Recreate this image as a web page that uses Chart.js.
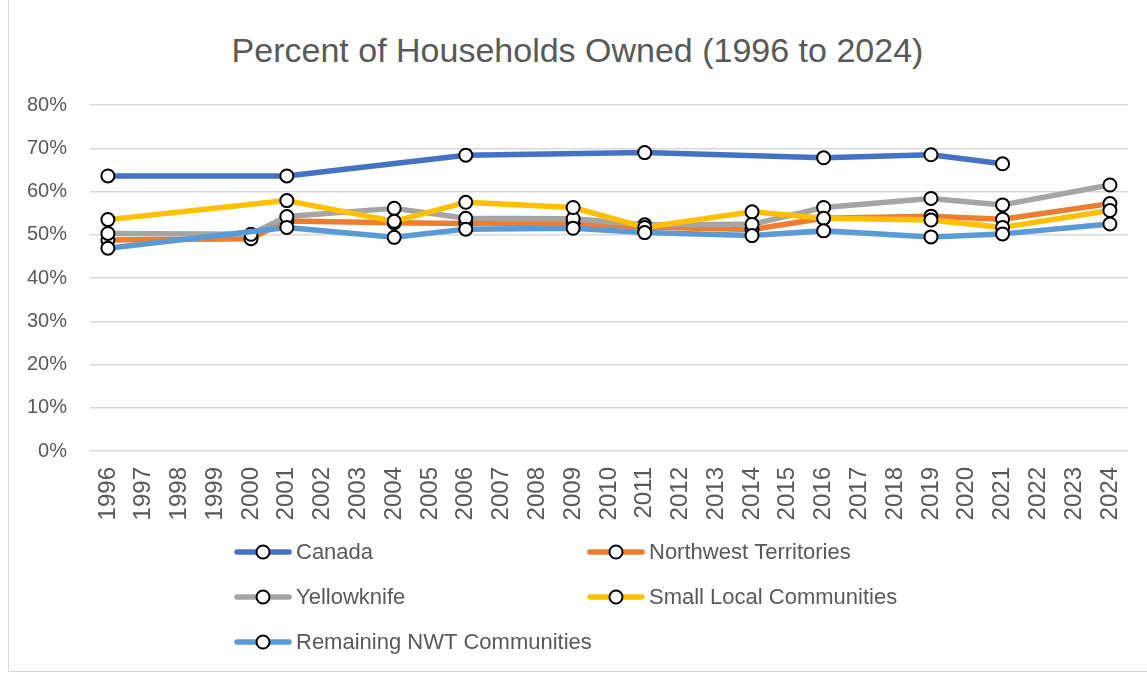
<!DOCTYPE html>
<html>
<head>
<meta charset="utf-8">
<title>Percent of Households Owned (1996 to 2024)</title>
<script src="https://cdn.jsdelivr.net/npm/chart.js@4.4.1/dist/chart.umd.min.js"></script>
<style>
    html, body { margin: 0; padding: 0; background: #fff; }
    #wrap { position: relative; width: 1147px; height: 673px; overflow: hidden; }
    #frame {
        position: absolute; left: 8px; top: 0; width: 1139px; height: 672px;
        border-left: 1px solid #d9d9d9; border-bottom: 1px solid #d9d9d9; box-sizing: border-box;
    }
    #title {
        position: absolute; left: 8px; width: 1139px; top: 31px; line-height: 38px;
        text-align: center; font-size: 34px; font-family: "Liberation Sans", Arial, sans-serif; color: #595959;
    }
    #ownChart { position: absolute; left: 0; top: 0; }
</style>
</head>
<body>
<div id="wrap">
    <div id="frame"></div>
    <div id="title">Percent of Households Owned (1996 to 2024)</div>
    <canvas id="ownChart" width="1147" height="673"></canvas>
</div>
<script>
// Years on the x axis (one category per year)
const years = ['1996', '1997', '1998', '1999', '2000', '2001', '2002', '2003', '2004', '2005',
               '2006', '2007', '2008', '2009', '2010', '2011', '2012', '2013', '2014', '2015',
               '2016', '2017', '2018', '2019', '2020', '2021', '2022', '2023', '2024'];

// Percent owned, null where no survey/census value
//                1996  97    98    99    2000  2001  02    03    2004  05    2006  07    08    2009  10    2011  12    13    2014  15    2016  17    18    2019  20    2021  22    23    2024
const canada    = [63.6, null, null, null, null, 63.6, null, null, null, null, 68.4, null, null, null, null, 69.0, null, null, null, null, 67.8, null, null, 68.5, null, 66.4, null, null, null];
const nwt       = [48.8, null, null, null, 49.1, 53.2, null, null, 52.8, null, 52.6, null, null, 52.6, null, 51.8, null, null, 51.2, null, 53.8, null, null, 54.3, null, 53.6, null, null, 57.2];
const yellowknife = [50.3, null, null, null, 50.1, 54.2, null, null, 56.1, null, 53.8, null, null, 53.7, null, 52.3, null, null, 52.4, null, 56.3, null, null, 58.4, null, 56.9, null, null, 61.5];
const smallLocal  = [53.5, null, null, null, null, 57.9, null, null, 53.1, null, 57.5, null, null, 56.3, null, 51.7, null, null, 55.3, null, 53.8, null, null, 53.4, null, 51.7, null, null, 55.6];
const remaining   = [46.9, null, null, null, null, 51.7, null, null, 49.4, null, 51.3, null, null, 51.5, null, 50.5, null, null, 49.8, null, 50.9, null, null, 49.5, null, 50.2, null, null, 52.5];

const seriesNames  = ['Canada', 'Northwest Territories', 'Yellowknife', 'Small Local Communities', 'Remaining NWT Communities'];
const seriesValues = [canada, nwt, yellowknife, smallLocal, remaining];
const seriesColors = ['#4472C4', '#ED7D31', '#A5A5A5', '#FFC000', '#5B9BD5'];

const yTicks = { min: 0, max: 80, step: 10 };

const FONT = '"Liberation Sans", Arial, sans-serif';
const TEXT = '#595959';

// Two-column legend drawn under the plot, like the Excel one
const gridLegend = {
    id: 'gridLegend',
    afterDraw(chart) {
        const ctx = chart.ctx;
        ctx.save();
        chart.data.datasets.forEach((ds, i) => {
            const x = (i % 2 === 0) ? 235 : 588;
            const y = 552 + Math.floor(i / 2) * 45;
            ctx.strokeStyle = ds.borderColor;
            ctx.lineWidth = 5.5;
            ctx.lineCap = 'round';
            ctx.beginPath();
            ctx.moveTo(x + 2, y);
            ctx.lineTo(x + 54, y);
            ctx.stroke();
            ctx.beginPath();
            ctx.arc(x + 28, y, 6.5, 0, Math.PI * 2);
            ctx.fillStyle = '#fff';
            ctx.fill();
            ctx.lineWidth = 2;
            ctx.strokeStyle = '#000';
            ctx.stroke();
            ctx.fillStyle = TEXT;
            ctx.font = '22px ' + FONT;
            ctx.textBaseline = 'middle';
            ctx.textAlign = 'left';
            ctx.fillText(ds.label, x + 61, y + 1);
        });
        ctx.restore();
    }
};

const ctx = document.getElementById('ownChart').getContext('2d');
const ownChart = new Chart(ctx, {
    type: 'line',
    data: {
        labels: years,
        datasets: seriesNames.map((name, i) => ({
            label: name,
            data: seriesValues[i],
            borderColor: seriesColors[i],
            backgroundColor: seriesColors[i],
            borderWidth: 5.5,
            borderJoinStyle: 'round',
            tension: 0,
            spanGaps: true,
            pointRadius: 6.5,
            pointBorderWidth: 2,
            pointBorderColor: '#000',
            pointBackgroundColor: '#fff',
            order: seriesNames.length - 1 - i   // later series drawn on top
        }))
    },
    options: {
        responsive: false,
        animation: false,
        layout: { padding: { top: 105, left: 0, right: 16, bottom: 152 } },
        plugins: {
            legend: { display: false },
            title: { display: false },
            tooltip: { enabled: false }
        },
        scales: {
            x: {
                offset: true,
                grid: { display: false },
                border: { display: false },
                ticks: {
                    autoSkip: false,
                    minRotation: 90,
                    maxRotation: 90,
                    padding: 8,
                    color: TEXT,
                    font: { family: FONT, size: 24 }
                },
                afterFit(scale) { scale.height = 70; }
            },
            y: {
                min: yTicks.min,
                max: yTicks.max,
                grid: { color: '#d9d9d9', lineWidth: 1.5, drawTicks: false },
                border: { display: false },
                ticks: {
                    stepSize: yTicks.step,
                    padding: 23,
                    color: TEXT,
                    font: { family: FONT, size: 20 },
                    callback: v => v + '%'
                },
                afterFit(scale) { scale.width = 90; }
            }
        }
    },
    plugins: [gridLegend]
});
</script>
</body>
</html>
